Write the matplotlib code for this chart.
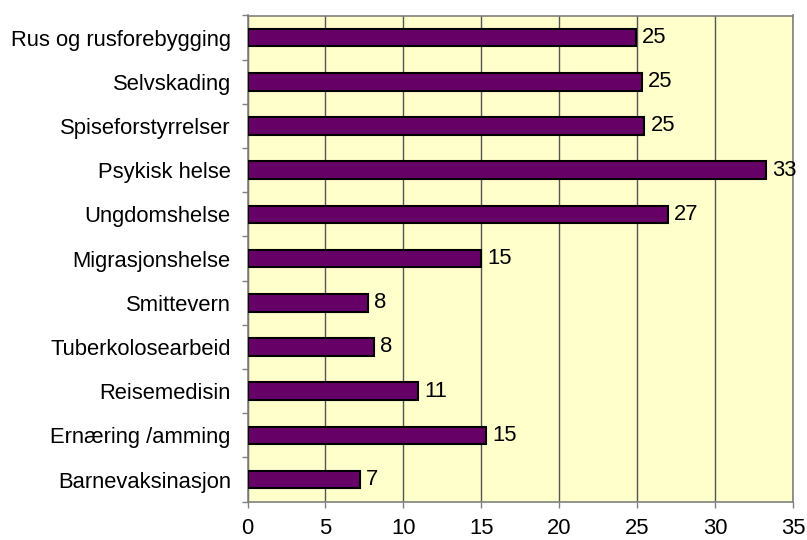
import numpy as np
import matplotlib.pyplot as plt

plt.rcParams['font.family'] = ['Liberation Sans', 'DejaVu Sans']

categories = ['Barnevaksinasjon', 'Ernæring /amming', 'Reisemedisin', 'Tuberkolosearbeid',
              'Smittevern', 'Migrasjonshelse', 'Ungdomshelse', 'Psykisk helse',
              'Spiseforstyrrelser', 'Selvskading', 'Rus og rusforebygging']
values = [7.2, 15.3, 10.95, 8.1, 7.7, 15.0, 26.95, 33.25, 25.45, 25.3, 24.9]
xticks = [0, 5, 10, 15, 20, 25, 30, 35]

fig = plt.figure(figsize=(8.07, 5.40), dpi=100)
ax = fig.add_axes([247.5 / 807, 1 - 501.7 / 540, (793.3 - 247.5) / 807, (501.7 - 15.5) / 540])
ax.set_facecolor('#FFFFCC')

fs = 15.8
y = np.arange(len(categories))
ax.barh(y, values, height=0.4, color='#660066', edgecolor='black', linewidth=1.5, zorder=3)
for yi, v in zip(y, values):
    ax.text(v + 0.4, yi, '%d' % round(v), va='center', ha='left', fontsize=fs, zorder=4)

ax.set_xlim(0, 35)
ax.set_ylim(-0.5, len(categories) - 0.5)
ax.set_xticks(xticks)
ax.set_xticklabels([str(t) for t in xticks], fontsize=fs)
ax.tick_params(axis='x', length=4, width=1, color='#808080', pad=8)
ax.set_yticks(np.arange(len(categories) + 1) - 0.5)
ax.set_yticks(y, minor=True)
ax.set_yticklabels([])
ax.set_yticklabels(categories, minor=True, fontsize=fs)
ax.tick_params(axis='y', which='major', length=4, width=1, color='#808080')
ax.tick_params(axis='y', which='minor', length=0, pad=12)
ax.grid(axis='x', color='#555555', linewidth=1, zorder=1)
for s in ax.spines.values():
    s.set_color('#808080')
    s.set_linewidth(1.2)

fig.savefig('out.png', dpi=100)
